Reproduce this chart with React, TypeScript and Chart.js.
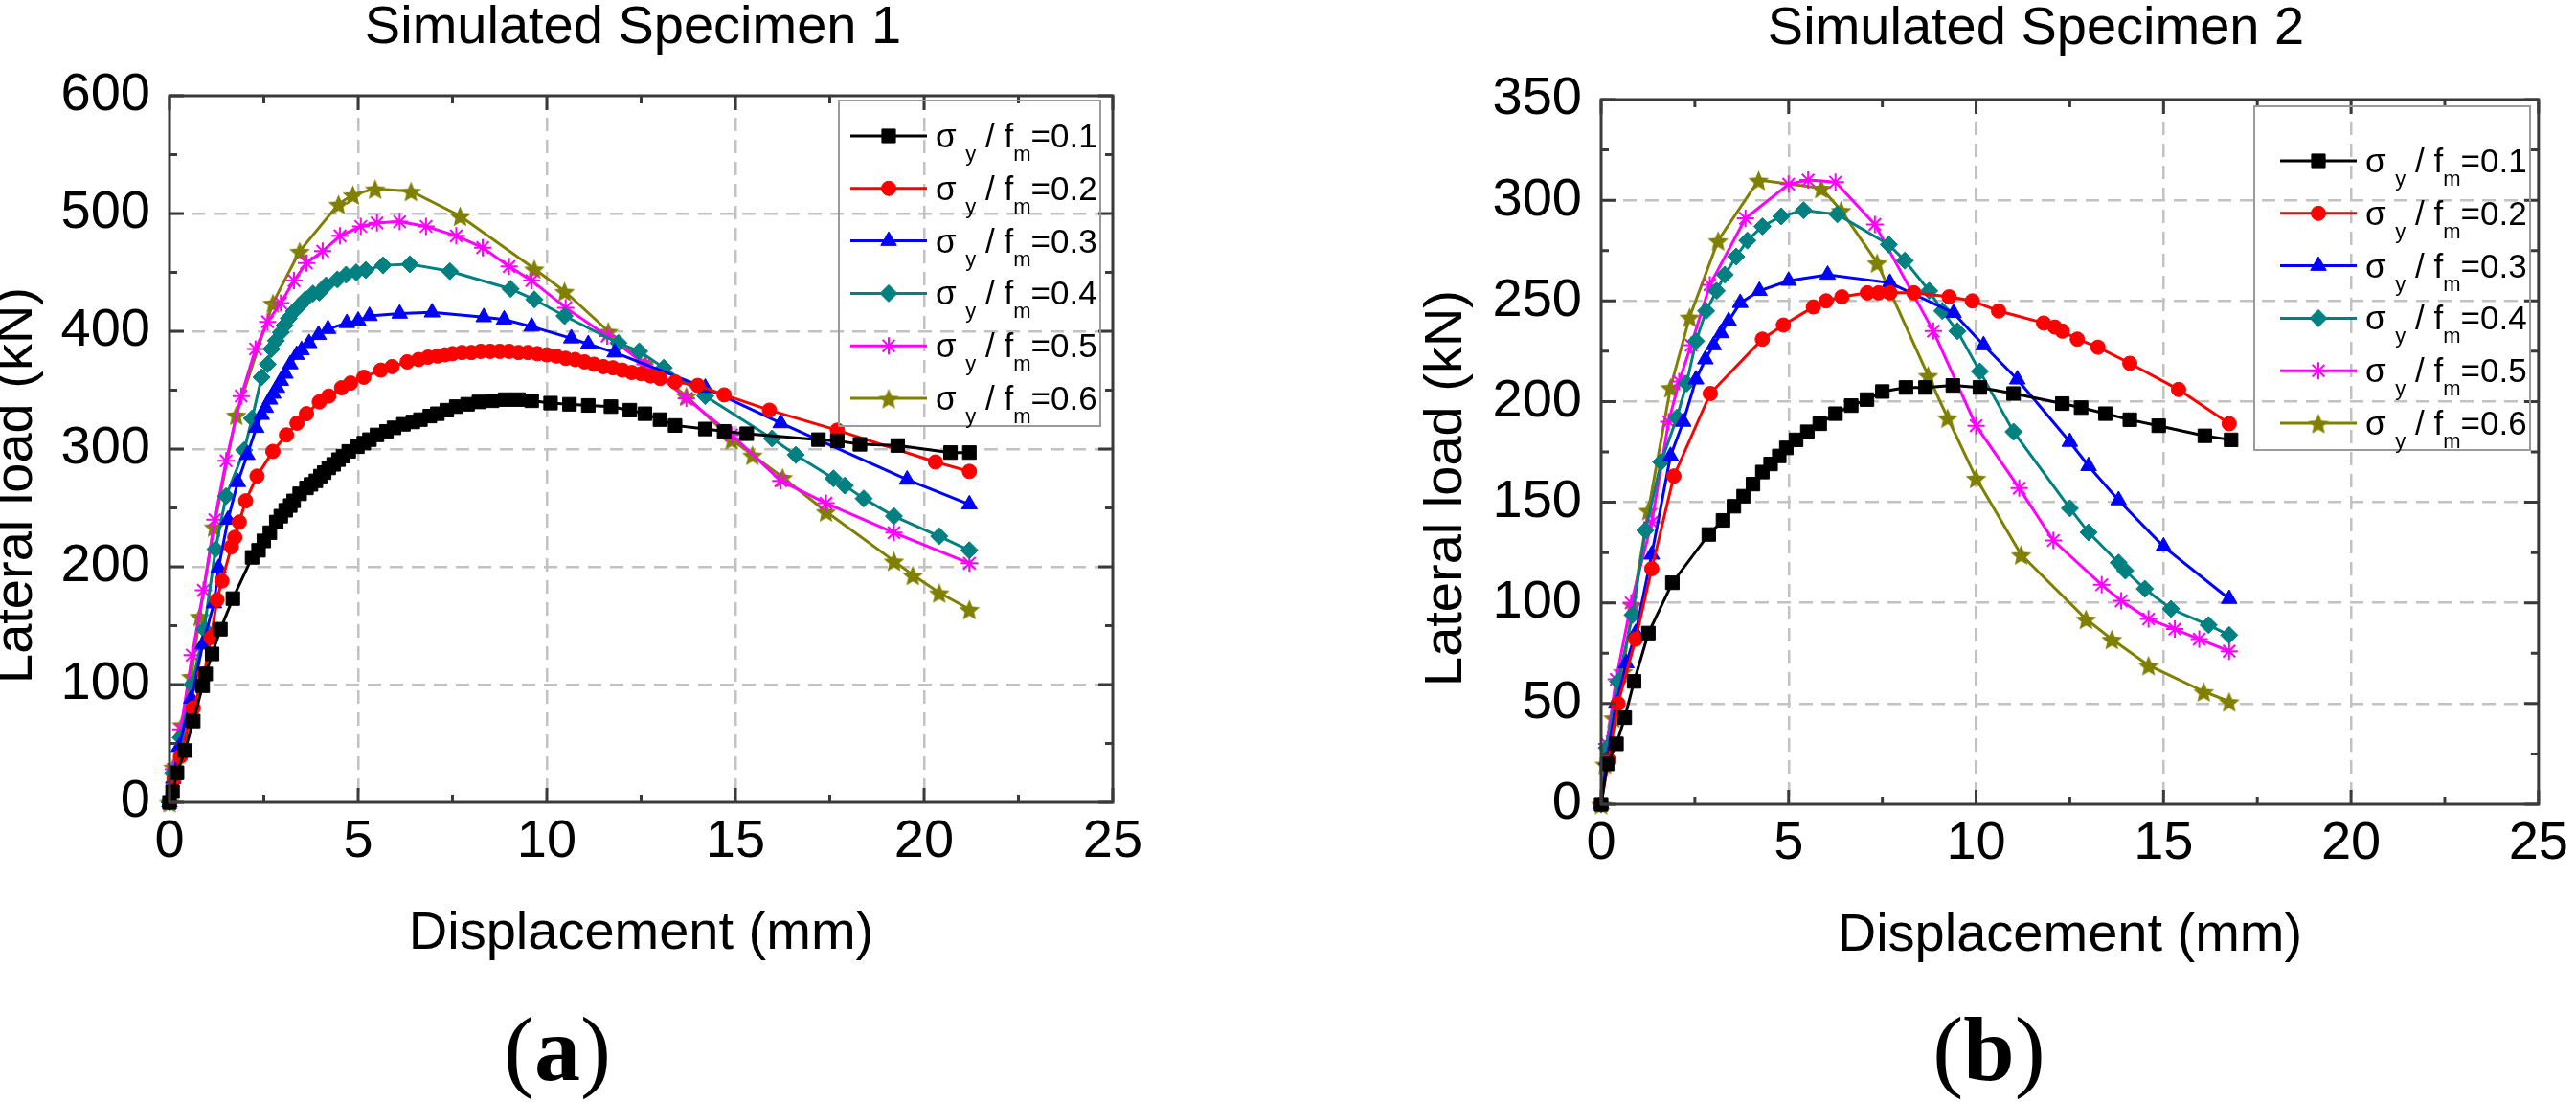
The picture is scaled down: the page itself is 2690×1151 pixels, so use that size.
import React, { useEffect, useRef } from 'react';
import { Chart, registerables } from 'chart.js';
import { drawPoint } from 'chart.js/helpers';

Chart.register(...registerables);

const FONT = '"Liberation Sans", Arial, Helvetica, sans-serif';
const FRAME = '#3a3a3a';
const GRID = '#c2c2c2';

const ratios = ['0.1', '0.2', '0.3', '0.4', '0.5', '0.6'];
const colors = ['#000000', '#ff0000', '#0000ff', '#008080', '#ff00ff', '#808000'];
const radii = [10, 7.5, 9.5, 9, 9, 11];

// Simulated Specimen 1
const s1x01 = [0, 0.08, 0.2, 0.41, 0.63, 0.88, 0.96, 1.13, 1.35, 1.68, 2.19, 2.36, 2.5, 2.66, 2.83, 2.95, 3.08, 3.2, 3.29, 3.45, 3.63, 3.75, 3.88, 4.0, 4.1, 4.22, 4.35, 4.48, 4.6, 4.75, 4.98, 5.15, 5.3, 5.5, 5.75, 5.95, 6.2, 6.45, 6.65, 6.9, 7.1, 7.35, 7.6, 7.9, 8.2, 8.55, 8.9, 9.25, 9.6, 10.1, 10.6, 11.1, 11.7, 12.2, 12.6, 13.0, 13.4, 14.2, 14.7, 15.3, 17.2, 17.7, 18.3, 19.3, 20.7, 21.2];
const s1y01 = [0, 9, 25, 44, 69, 99, 109, 126, 147, 173, 208, 214, 222, 229, 238, 243, 248, 252, 256, 262, 267, 270, 273, 277, 280, 284, 287, 291, 294, 298, 302, 305, 308, 312, 315, 318, 321, 323, 325, 328, 330, 333, 336, 338, 340, 341, 342, 342, 341, 339, 338, 337, 336, 333, 330, 325, 320, 317, 315, 313, 308, 307, 304, 303, 297, 297];
const s1x02 = [0, 0.12, 0.29, 0.63, 0.92, 1.1, 1.26, 1.39, 1.64, 1.73, 1.85, 2.02, 2.32, 2.74, 3.1, 3.38, 3.63, 3.97, 4.22, 4.56, 4.8, 5.15, 5.6, 5.9, 6.3, 6.6, 6.85, 7.1, 7.3, 7.5, 7.75, 8.0, 8.25, 8.5, 8.75, 9.0, 9.25, 9.5, 9.75, 10.0, 10.25, 10.5, 10.75, 11.0, 11.25, 11.5, 11.75, 12.0, 12.25, 12.5, 12.75, 13.0, 13.4, 14.0, 14.7, 15.9, 17.7, 20.3, 21.2];
const s1y02 = [0, 20, 39, 80, 109, 140, 172, 188, 217, 225, 238, 256, 277, 298, 312, 322, 330, 340, 345, 352, 356, 361, 367, 370, 374, 376, 378, 379, 380, 381, 382, 382, 383, 383, 383, 383, 382, 382, 381, 380, 379, 377, 376, 374, 372, 370, 369, 367, 365, 364, 362, 360, 357, 354, 346, 333, 316, 289, 281];
const s1x03 = [0, 0.1, 0.25, 0.58, 0.88, 1.18, 1.3, 1.55, 1.81, 2.06, 2.3, 2.44, 2.55, 2.66, 2.75, 2.85, 2.95, 3.07, 3.2, 3.37, 3.5, 3.7, 3.95, 4.2, 4.7, 5.0, 5.3, 6.1, 6.96, 8.33, 8.87, 9.6, 10.65, 11.1, 11.8, 14.2, 16.2, 19.55, 21.2];
const s1y03 = [0, 20, 47, 88, 134, 169, 199, 240, 272, 295, 318, 329, 335, 342, 347, 352, 358, 364, 372, 380, 384, 390, 397, 402, 407, 409, 413, 415, 416, 412, 410, 404, 394, 389, 382, 352, 322, 274, 253];
const s1x04 = [0, 0.1, 0.3, 0.6, 0.92, 1.22, 1.5, 1.98, 2.19, 2.44, 2.6, 2.7, 2.82, 2.95, 3.05, 3.16, 3.3, 3.45, 3.6, 3.8, 3.97, 4.15, 4.45, 4.68, 4.95, 5.2, 5.66, 6.37, 7.43, 9.04, 9.67, 10.47, 11.9, 12.45, 13.1, 14.2, 15.97, 16.6, 17.6, 17.9, 18.4, 19.2, 20.4, 21.2];
const s1y04 = [0, 25, 55, 100, 147, 215, 260, 299, 326, 361, 372, 385, 392, 399, 405, 411, 417, 422, 427, 432, 433, 439, 444, 448, 450, 452, 456, 457, 451, 436, 427, 413, 390, 383, 369, 345, 309, 295, 275, 269, 258, 243, 226, 214];
const s1x05 = [0, 0.1, 0.3, 0.6, 0.9, 1.2, 1.5, 1.9, 2.28, 2.6, 2.95, 3.3, 3.63, 4.06, 4.52, 5.07, 5.5, 6.1, 6.8, 7.6, 8.3, 9.0, 9.6, 10.5, 11.6, 12.6, 13.7, 14.9, 16.2, 17.4, 19.2, 21.2];
const s1y05 = [0, 28, 62, 125, 180, 240, 290, 345, 385, 408, 424, 443, 458, 468, 481, 489, 492, 493, 489, 481, 471, 455, 443, 420, 396, 372, 343, 312, 273, 254, 229, 203];
const s1x06 = [0, 0.1, 0.33, 0.58, 0.8, 1.18, 1.77, 2.74, 3.45, 4.48, 4.86, 5.45, 6.4, 7.7, 9.67, 10.47, 11.63, 12.6, 13.7, 14.9, 15.45, 16.25, 17.4, 19.2, 19.7, 20.4, 21.2];
const s1y06 = [0, 30, 66, 107, 158, 234, 329, 424, 468, 508, 516, 521, 519, 498, 453, 434, 400, 373, 345, 308, 295, 276, 247, 205, 193, 178, 164];

// Simulated Specimen 2
const s2x01 = [0, 0.16, 0.41, 0.63, 0.88, 1.26, 1.9, 2.87, 3.25, 3.54, 3.8, 4.05, 4.3, 4.52, 4.75, 4.94, 5.2, 5.5, 5.83, 6.25, 6.67, 7.09, 7.5, 8.13, 8.65, 9.38, 10.1, 11.0, 12.3, 12.8, 13.45, 14.1, 14.87, 16.1, 16.8];
const s2y01 = [0, 20, 30, 43, 61, 85, 110, 134, 141, 148, 153, 159, 165, 169, 173, 177, 181, 185, 189, 194, 198, 201, 205, 207, 207, 208, 207, 204, 199, 197, 194, 191, 188, 183, 181];
const s2x02 = [0, 0.2, 0.45, 0.92, 1.35, 1.94, 2.91, 4.3, 4.86, 5.66, 6.0, 6.42, 7.1, 7.4, 7.7, 8.34, 9.28, 9.9, 10.6, 11.8, 12.1, 12.3, 12.7, 13.25, 14.1, 15.4, 16.75];
const s2y02 = [0, 22, 50, 82, 117, 163, 204, 231, 238, 247, 250, 252, 254, 254, 254, 254, 252, 250, 245, 239, 237, 235, 231, 227, 219, 206, 189];
const s2x03 = [0, 0.15, 0.4, 0.67, 0.92, 1.35, 1.85, 2.19, 2.53, 2.78, 3.0, 3.2, 3.4, 3.71, 4.22, 5.0, 6.04, 7.7, 9.4, 10.2, 11.1, 12.5, 13.0, 13.8, 15.0, 16.75];
const s2y03 = [0, 22, 50, 70, 85, 124, 173, 190, 211, 221, 228, 234, 240, 249, 255, 260, 263, 259, 244, 228, 211, 180, 168, 151, 128, 102];
const s2x04 = [0, 0.15, 0.45, 0.84, 1.18, 1.6, 2.02, 2.28, 2.53, 2.8, 3.08, 3.3, 3.6, 3.9, 4.3, 4.8, 5.4, 6.3, 7.67, 8.1, 8.75, 9.1, 9.5, 10.1, 11.0, 12.5, 13.0, 13.8, 13.98, 14.5, 15.2, 16.2, 16.75];
const s2y04 = [0, 28, 61, 94, 136, 170, 192, 209, 230, 245, 255, 263, 272, 280, 287, 292, 295, 293, 278, 270, 255, 245, 235, 215, 185, 147, 135, 120, 116, 107, 97, 89, 84];
const s2x05 = [0, 0.15, 0.4, 0.8, 1.35, 1.8, 2.08, 2.4, 2.9, 3.85, 5.0, 5.52, 6.25, 7.3, 8.86, 10.0, 11.15, 12.06, 13.35, 13.87, 14.6, 15.3, 15.95, 16.75];
const s2y05 = [0, 30, 62, 100, 140, 190, 210, 228, 258, 291, 308, 310, 309, 288, 235, 188, 157, 131, 109, 101, 92, 87, 82, 76];
const s2x06 = [0, 0.1, 0.33, 0.58, 0.84, 1.26, 1.85, 2.36, 3.12, 4.2, 5.87, 6.4, 7.36, 8.72, 9.24, 10.0, 11.2, 12.93, 13.62, 14.6, 16.07, 16.75];
const s2y06 = [0, 20, 43, 66, 99, 146, 207, 242, 280, 310, 306, 295, 269, 213, 192, 162, 124, 92, 82, 69, 56, 51];

type Legend = { x: number; y: number; w: number; h: number; row0: number; step: number; line0: number; line1: number; text: number };
type Spec = {
  title: string;
  xs: number[][];
  ys: number[][];
  yMax: number;
  yStep: number;
  left: number;
  width: number;
  height: number;
  padding: { left: number; top: number; right: number; bottom: number };
  yWidth: number;
  titlePos: [number, number];
  yTitlePos: [number, number];
  legend: Legend;
};

const spec1: Spec = {
  title: 'Simulated Specimen 1',
  xs: [s1x01, s1x02, s1x03, s1x04, s1x05, s1x06],
  ys: [s1y01, s1y02, s1y03, s1y04, s1y05, s1y06],
  yMax: 600,
  yStep: 100,
  left: 0,
  width: 1300,
  height: 1009,
  padding: { left: 0, top: 100, right: 138, bottom: 0 },
  yWidth: 177,
  titlePos: [661, 45],
  yTitlePos: [33, 507],
  legend: { x: 876, y: 105, w: 273, h: 340, row0: 142, step: 54.8, line0: 888, line1: 968, text: 977 },
};

const spec2: Spec = {
  title: 'Simulated Specimen 2',
  xs: [s2x01, s2x02, s2x03, s2x04, s2x05, s2x06],
  ys: [s2y01, s2y02, s2y03, s2y04, s2y05, s2y06],
  yMax: 350,
  yStep: 50,
  left: 1345,
  width: 1345,
  height: 1011,
  padding: { left: 150, top: 104, right: 30, bottom: 0 },
  yWidth: 177,
  titlePos: [781, 46],
  yTitlePos: [181, 510],
  legend: { x: 1009, y: 111, w: 288, h: 359, row0: 168, step: 54.8, line0: 1036, line1: 1116, text: 1125 },
};

let starCanvas: HTMLCanvasElement | null = null;
function starImage() {
  if (starCanvas) return starCanvas;
  const size = 23;
  const c = document.createElement('canvas');
  c.width = size;
  c.height = size;
  const g = c.getContext('2d')!;
  const r = size / 2;
  g.beginPath();
  for (let i = 0; i < 10; i++) {
    const a = -Math.PI / 2 + (i * Math.PI) / 5;
    const rr = i % 2 ? r * 0.45 : r;
    g.lineTo(r + rr * Math.cos(a), r + 1.5 + rr * Math.sin(a));
  }
  g.closePath();
  g.fillStyle = colors[5];
  g.fill();
  starCanvas = c;
  return c;
}

function pointStyles(): any[] {
  return ['rect', 'circle', 'triangle', 'rectRot', 'star', starImage()];
}

function drawLegendLabel(ctx: CanvasRenderingContext2D, x: number, y: number, value: string) {
  const big = `35px ${FONT}`;
  const small = `22px ${FONT}`;
  const base = y + 12;
  let cx = x;
  ctx.textAlign = 'left';
  ctx.textBaseline = 'alphabetic';
  ctx.fillStyle = '#000';
  ctx.font = big;
  ctx.fillText('σ', cx, base);
  cx += ctx.measureText('σ ').width;
  ctx.font = small;
  ctx.fillText('y', cx, base + 14);
  cx += ctx.measureText('y').width;
  ctx.font = big;
  ctx.fillText(' / f', cx, base);
  cx += ctx.measureText(' / f').width;
  ctx.font = small;
  ctx.fillText('m', cx, base + 14);
  cx += ctx.measureText('m').width;
  ctx.font = big;
  ctx.fillText('=' + value, cx, base);
}

function decorPlugin(spec: Spec) {
  return {
    id: 'decor',
    afterDatasetsDraw(chart: any) {
      const { ctx, chartArea: a, scales } = chart;
      ctx.save();

      // frame and inward ticks on all four sides
      ctx.strokeStyle = FRAME;
      ctx.lineWidth = 3;
      ctx.beginPath();
      for (let v = 0; v <= 25 + 1e-6; v += 2.5) {
        const px = scales.x.getPixelForValue(v);
        const len = Math.abs(v % 5) < 1e-6 ? 15 : 8;
        ctx.moveTo(px, a.bottom);
        ctx.lineTo(px, a.bottom - len);
        ctx.moveTo(px, a.top);
        ctx.lineTo(px, a.top + len);
      }
      const half = spec.yStep / 2;
      for (let v = 0; v <= spec.yMax + 1e-6; v += half) {
        const py = scales.y.getPixelForValue(v);
        const len = Math.abs(v % spec.yStep) < 1e-6 ? 15 : 8;
        ctx.moveTo(a.left, py);
        ctx.lineTo(a.left + len, py);
        ctx.moveTo(a.right, py);
        ctx.lineTo(a.right - len, py);
      }
      ctx.stroke();
      ctx.strokeRect(a.left, a.top, a.right - a.left, a.bottom - a.top);

      // legend
      const lg = spec.legend;
      ctx.strokeStyle = '#9a9a9a';
      ctx.lineWidth = 2;
      ctx.strokeRect(lg.x, lg.y, lg.w, lg.h);
      const styles = pointStyles();
      ratios.forEach((r, i) => {
        const y = lg.row0 + i * lg.step;
        ctx.strokeStyle = colors[i];
        ctx.fillStyle = colors[i];
        ctx.lineWidth = 3;
        ctx.beginPath();
        ctx.moveTo(lg.line0, y);
        ctx.lineTo(lg.line1, y);
        ctx.stroke();
        ctx.lineWidth = i === 4 ? 2 : 1;
        drawPoint(ctx, { pointStyle: styles[i], radius: radii[i], rotation: 0, borderWidth: i === 4 ? 2 : 1 } as any, (lg.line0 + lg.line1) / 2, y);
        drawLegendLabel(ctx, lg.text, y, r);
      });
      ctx.restore();
    },
    afterDraw(chart: any) {
      const { ctx } = chart;
      ctx.save();
      ctx.fillStyle = '#000';
      ctx.font = `56px ${FONT}`;
      ctx.textAlign = 'center';
      ctx.textBaseline = 'alphabetic';
      ctx.fillText(spec.title, spec.titlePos[0], spec.titlePos[1]);
      ctx.translate(spec.yTitlePos[0], spec.yTitlePos[1]);
      ctx.rotate(-Math.PI / 2);
      ctx.fillText('Lateral load (kN)', 0, 0);
      ctx.restore();
    },
  };
}

function buildConfig(spec: Spec): any {
  const styles = pointStyles();
  const datasets = spec.xs.map((xs, i) => ({
    label: `σy / fm=${ratios[i]}`,
    data: xs.slice(0, Math.min(xs.length, spec.ys[i].length)).map((x, j) => ({ x, y: spec.ys[i][j] })),
    showLine: true,
    borderColor: colors[i],
    backgroundColor: colors[i],
    pointBackgroundColor: colors[i],
    pointBorderColor: colors[i],
    pointStyle: styles[i],
    pointRadius: radii[i],
    pointBorderWidth: i === 4 ? 2 : 1,
    borderWidth: 3,
    tension: 0,
    clip: false,
  }));

  const tickFont = { family: FONT, size: 56, lineHeight: 1.2 };
  const gridColor = (max: number) => (c: any) =>
    c.tick && (c.tick.value === 0 || c.tick.value === max) ? 'rgba(0,0,0,0)' : GRID;

  return {
    type: 'scatter',
    data: { datasets },
    options: {
      responsive: false,
      animation: false,
      events: [],
      layout: { padding: spec.padding },
      plugins: { legend: { display: false }, tooltip: { enabled: false }, title: { display: false } },
      scales: {
        x: {
          type: 'linear',
          min: 0,
          max: 25,
          ticks: { stepSize: 5, font: tickFont, color: '#000', padding: 8, maxRotation: 0, autoSkip: false },
          grid: { drawTicks: false, color: gridColor(25), lineWidth: 2.5 },
          border: { display: false, dash: [14, 9] },
          title: { display: true, text: 'Displacement (mm)', font: tickFont, color: '#000', padding: 0 },
          afterFit: (s: any) => {
            s.height = 171;
          },
        },
        y: {
          type: 'linear',
          min: 0,
          max: spec.yMax,
          ticks: { stepSize: spec.yStep, font: tickFont, color: '#000', padding: 20 },
          grid: { drawTicks: false, color: gridColor(spec.yMax), lineWidth: 2.5 },
          border: { display: false, dash: [14, 9] },
          afterFit: (s: any) => {
            s.width = spec.yWidth;
          },
        },
      },
    },
    plugins: [decorPlugin(spec)],
  };
}

function SpecimenChart({ spec }: { spec: Spec }) {
  const canvasRef = useRef<HTMLCanvasElement>(null);

  useEffect(() => {
    const chart = new Chart(canvasRef.current!, buildConfig(spec));
    return () => chart.destroy();
  }, [spec]);

  return (
    <canvas
      ref={canvasRef}
      width={spec.width}
      height={spec.height}
      style={{ position: 'absolute', left: spec.left, top: 0, width: spec.width, height: spec.height }}
    />
  );
}

const panelLabel: React.CSSProperties = {
  position: 'absolute',
  top: 1048,
  fontFamily: '"Liberation Serif", "Times New Roman", serif',
  fontSize: 96,
  lineHeight: '96px',
  transform: 'translateX(-50%)',
  whiteSpace: 'nowrap',
  color: '#000',
};

export default function App() {
  return (
    <div style={{ position: 'absolute', left: 0, top: 0, width: 2690, height: 1151, background: '#fff', overflow: 'hidden' }}>
      <SpecimenChart spec={spec1} />
      <SpecimenChart spec={spec2} />
      <div style={{ ...panelLabel, left: 582 }}>
        (<b>a</b>)
      </div>
      <div style={{ ...panelLabel, left: 2077 }}>
        (<b>b</b>)
      </div>
    </div>
  );
}
